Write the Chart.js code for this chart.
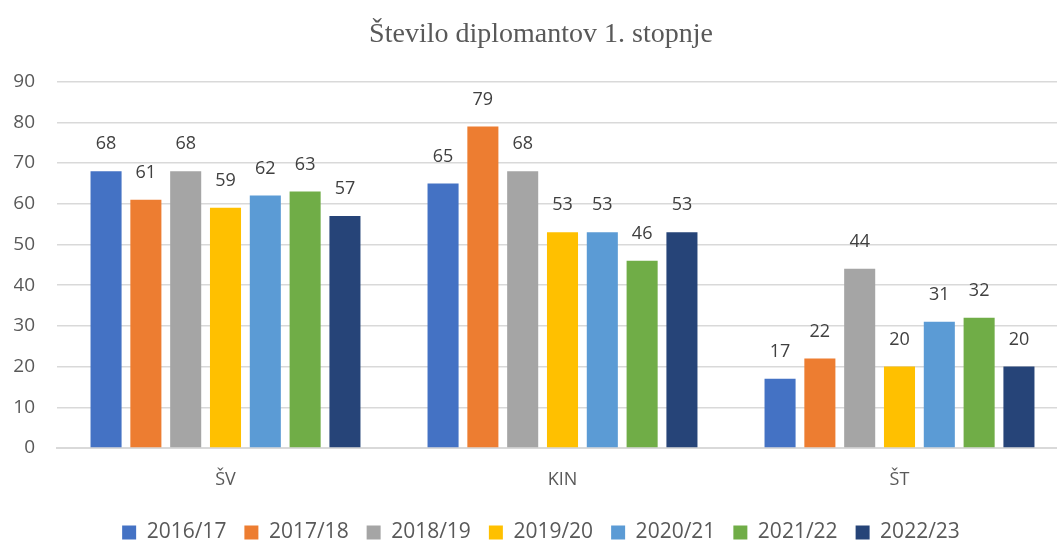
<!DOCTYPE html>
<html lang="sl">
<head>
    <meta charset="UTF-8">
    <title>Število diplomantov 1. stopnje</title>
    <script src="https://cdn.jsdelivr.net/npm/chart.js"></script>
    <style>
        html, body { margin: 0; padding: 0; background: #ffffff; overflow: hidden; }
        /* the plot area runs a little past the right edge, as in the original */
        #wrap { width: 1057px; height: 541px; overflow: hidden; }
    </style>
</head>
<body>
    <div id="wrap"><canvas id="chart" width="1068" height="541"></canvas></div>

    <script>
        // data
        const categories = ['ŠV', 'KIN', 'ŠT'];
        const years = ['2016/17', '2017/18', '2018/19', '2019/20', '2020/21', '2021/22', '2022/23'];
        const y2016 = [68, 65, 17];
        const y2017 = [61, 79, 22];
        const y2018 = [68, 68, 44];
        const y2019 = [59, 53, 20];
        const y2020 = [62, 53, 31];
        const y2021 = [63, 46, 32];
        const y2022 = [57, 53, 20];
        const yTicks = [0, 10, 20, 30, 40, 50, 60, 70, 80, 90];

        const seriesValues = [y2016, y2017, y2018, y2019, y2020, y2021, y2022];
        const colors = ['#4472C4', '#ED7D31', '#A5A5A5', '#FFC000', '#5B9BD5', '#70AD47', '#264478'];

        const textColor = '#595959';
        const sansFont = "'Open Sans', 'Noto Sans', sans-serif";

        // draws the value above each bar
        const valueLabels = {
            id: 'valueLabels',
            afterDatasetsDraw(chart) {
                const ctx = chart.ctx;
                ctx.save();
                ctx.font = "18px " + sansFont;
                ctx.fillStyle = '#404040';
                ctx.textAlign = 'center';
                ctx.textBaseline = 'middle';
                chart.data.datasets.forEach((ds, i) => {
                    chart.getDatasetMeta(i).data.forEach((bar, j) => {
                        ctx.fillText(ds.data[j], bar.x, bar.y - 27);
                    });
                });
                ctx.restore();
            }
        };

        new Chart(document.getElementById('chart').getContext('2d'), {
            type: 'bar',
            data: {
                labels: categories,
                datasets: years.map((y, i) => ({
                    label: y,
                    data: seriesValues[i],
                    backgroundColor: colors[i],
                    barPercentage: 0.78,
                    categoryPercentage: 0.827
                }))
            },
            options: {
                responsive: false,
                animation: false,
                layout: { padding: { top: 8, right: 0, left: 14, bottom: -12 } },
                plugins: {
                    title: {
                        display: true,
                        text: 'Število diplomantov 1. stopnje',
                        color: textColor,
                        font: { family: "'Liberation Serif', 'DejaVu Serif', serif", size: 28, weight: 'normal' },
                        padding: { top: 10, bottom: 30 }
                    },
                    legend: {
                        position: 'bottom',
                        labels: {
                            color: textColor,
                            font: { family: sansFont, size: 21 },
                            boxWidth: 14,
                            boxHeight: 14,
                            padding: 18
                        }
                    },
                    tooltip: { enabled: false }
                },
                scales: {
                    x: {
                        grid: { display: false },
                        border: { color: '#d9d9d9', width: 2 },
                        ticks: {
                            color: textColor,
                            font: { family: sansFont, size: 18 },
                            padding: 13
                        },
                        afterFit(axis) {
                            axis.height = 56;
                        }
                    },
                    y: {
                        min: 0,
                        max: 90,
                        afterBuildTicks(axis) {
                            axis.ticks = yTicks.map(v => ({ value: v }));
                        },
                        grid: { color: '#d9d9d9', lineWidth: 1.5, drawTicks: false },
                        border: { display: false },
                        ticks: {
                            color: textColor,
                            font: { family: sansFont, size: 19 },
                            padding: 22
                        },
                        afterFit(axis) {
                            axis.width = 43;
                        }
                    }
                }
            },
            plugins: [valueLabels]
        });
    </script>
</body>
</html>
